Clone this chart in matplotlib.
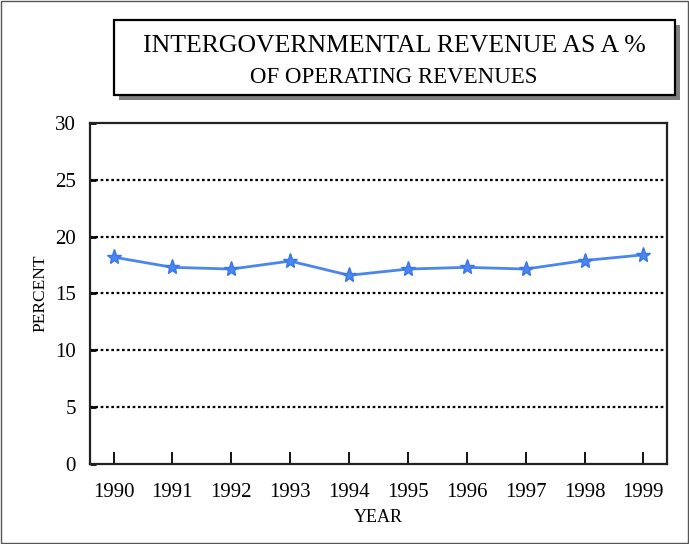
import matplotlib.pyplot as plt
from matplotlib.patches import Rectangle

years = [1990, 1991, 1992, 1993, 1994, 1995, 1996, 1997, 1998, 1999]
percent = [18.2, 17.3, 17.15, 17.85, 16.6, 17.15, 17.3, 17.15, 17.9, 18.4]
y_ticks = [0, 5, 10, 15, 20, 25, 30]

plt.rcParams['font.family'] = ['Liberation Serif', 'DejaVu Serif']

fig = plt.figure(figsize=(6.89, 5.44), dpi=100)
ax = fig.add_axes([0.1306, 0.147, 0.8374, 0.627])

ax.plot(years, percent, color='#4a86f0', linewidth=2, marker='*',
        markersize=11, markeredgecolor='#3a76e8', zorder=3)

ax.set_xlim(1989.6, 1999.4)
ax.set_ylim(0, 30)
ax.set_xticks(years)
ax.set_yticks(y_ticks)
ax.tick_params(axis='x', direction='in', length=9, width=1.3, labelsize=15, pad=14)
ax.tick_params(axis='y', direction='in', length=4, width=2, labelsize=15, pad=10)
for v in y_ticks[1:-1]:
    ax.axhline(v, color='black', linestyle=(0, (1.2, 1.2)), linewidth=1.6, zorder=1)
for s in ax.spines.values():
    s.set_linewidth(1.6)
    s.set_color('#222222')

ax.set_xlabel('YEAR', fontsize=13, labelpad=5)
ax.set_ylabel('PERCENT', fontsize=12.5, labelpad=5)

# title box with shadow
fig.patches.append(Rectangle((119 / 689, 1 - 100 / 544), 561 / 689, 75 / 544,
                             transform=fig.transFigure, facecolor='#808080',
                             edgecolor='none', zorder=1))
fig.patches.append(Rectangle((114 / 689, 1 - 95 / 544), 561 / 689, 75 / 544,
                             transform=fig.transFigure, facecolor='white',
                             edgecolor='black', linewidth=1.6, zorder=2))
fig.text(394 / 689, 1 - 46 / 544, 'INTERGOVERNMENTAL REVENUE AS A %',
         ha='center', va='center', fontsize=18.5, zorder=3)
fig.text(394 / 689, 1 - 78 / 544, 'OF OPERATING REVENUES',
         ha='center', va='center', fontsize=16.5, zorder=3)

# outer border
fig.patches.append(Rectangle((0.001, 0.001), 0.997, 0.997, transform=fig.transFigure,
                             facecolor='none', edgecolor='#555555', linewidth=1))

fig.savefig('out.png', dpi=100)
